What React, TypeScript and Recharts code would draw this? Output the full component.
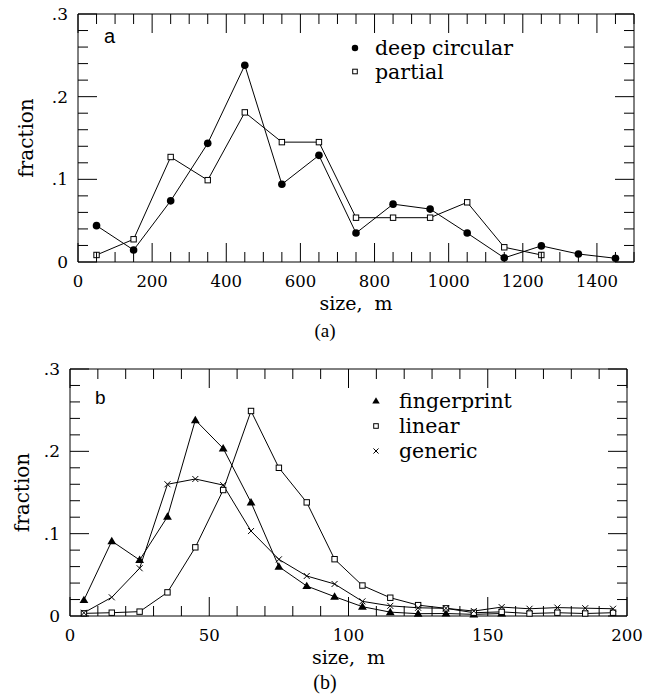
import React from 'react'
import { LineChart, Line, XAxis, YAxis, ReferenceArea, Legend } from 'recharts'

// (a) size bins, m
const sizesA = [50, 150, 250, 350, 450, 550, 650, 750, 850, 950, 1050, 1150, 1250, 1350, 1450]
const deepCircular = [0.044, 0.0145, 0.074, 0.1435, 0.238, 0.094, 0.129, 0.035, 0.07, 0.064, 0.035, 0.005, 0.0195, 0.0097, 0.0045]
const partial = [0.0085, 0.0275, 0.127, 0.099, 0.181, 0.145, 0.145, 0.0536, 0.0536, 0.0536, 0.0722, 0.0178, 0.0085, null, null]

// (b) size bins, m
const sizesB = [5, 15, 25, 35, 45, 55, 65, 75, 85, 95, 105, 115, 125, 135, 145, 155, 165, 175, 185, 195]
const fingerprint = [0.0194, 0.091, 0.068, 0.1206, 0.238, 0.2036, 0.138, 0.0599, 0.0364, 0.0235, 0.0113, 0.0047, 0.0028, 0.003, 0.002, 0.003, null, null, null, null]
const linear = [0.0032, 0.004, 0.0053, 0.0287, 0.0834, 0.153, 0.249, 0.18, 0.138, 0.069, 0.037, 0.0222, 0.0132, 0.0093, 0.004, 0.005, 0.003, 0.004, 0.003, 0.004]
const generic = [0.004, 0.0227, 0.058, 0.16, 0.1664, 0.159, 0.1032, 0.0688, 0.0486, 0.0389, 0.0178, 0.0123, 0.01, 0.0093, 0.006, 0.0108, 0.0088, 0.0102, 0.0095, 0.0088]

const yTicks = [0, 0.02, 0.04, 0.06, 0.08, 0.1, 0.12, 0.14, 0.16, 0.18, 0.2, 0.22, 0.24, 0.26, 0.28, 0.3]
const yMajor = [0, 0.1, 0.2, 0.3]
const yLabels = ['0', '.1', '.2', '.3']
const xTicksA = Array.from({ length: 31 }, (_, i) => i * 50)
const xMajorA = [0, 200, 400, 600, 800, 1000, 1200, 1400]
const xTicksB = Array.from({ length: 21 }, (_, i) => i * 10)
const xMajorB = [0, 50, 100, 150, 200]

const dataA = sizesA.map((s, i) => ({ size: s, deep: deepCircular[i], partial: partial[i] }))
const dataB = sizesB.map((s, i) => ({ size: s, fingerprint: fingerprint[i], linear: linear[i], generic: generic[i] }))

const seriesA = [
  { key: 'deep', name: 'deep circular', shape: 'circle' },
  { key: 'partial', name: 'partial', shape: 'square' },
]
const seriesB = [
  { key: 'fingerprint', name: 'fingerprint', shape: 'triangle' },
  { key: 'linear', name: 'linear', shape: 'square' },
  { key: 'generic', name: 'generic', shape: 'cross' },
]

const SERIF = '"DejaVu Serif", serif'
const MAJOR_LEN = 19
const MINOR_LEN = 10

function Marker({ cx, cy, shape, small }: { cx: number; cy: number; shape: string; small?: boolean }) {
  const k = small ? 0.85 : 1
  if (shape === 'circle') return <circle cx={cx} cy={cy} r={3.8 * k} fill="#000" />
  if (shape === 'square') {
    const h = 2.7 * k
    return <rect x={cx - h} y={cy - h} width={2 * h} height={2 * h} fill="#fff" stroke="#000" strokeWidth={1} />
  }
  if (shape === 'triangle') {
    const s = 4.4 * k
    return <polygon points={`${cx},${cy - s} ${cx - s},${cy + s * 0.7} ${cx + s},${cy + s * 0.7}`} fill="#000" />
  }
  const c = 3 * k
  return (
    <g stroke="#000" strokeWidth={1}>
      <line x1={cx - c} y1={cy - c} x2={cx + c} y2={cy + c} />
      <line x1={cx - c} y1={cy + c} x2={cx + c} y2={cy - c} />
    </g>
  )
}

const dotFor = (shape: string) => (p: any) => {
  if (p.value == null || p.cy == null) return <g key={p.index} />
  return <Marker key={p.index} cx={p.cx} cy={p.cy} shape={shape} />
}

const xTickFor = (major: number[], plotH: number) => (p: any) => {
  const { x, y, payload } = p
  const isMajor = major.includes(payload.value)
  const len = isMajor ? MAJOR_LEN : MINOR_LEN
  return (
    <g>
      <line x1={x} y1={y} x2={x} y2={y - len} stroke="#000" />
      <line x1={x} y1={y - plotH} x2={x} y2={y - plotH + len} stroke="#000" />
      {isMajor && (
        <text x={x} y={y + 25} textAnchor="middle" fontFamily={SERIF} fontSize={16.5} fill="#000">
          {payload.value}
        </text>
      )}
    </g>
  )
}

const yTickFor = (plotW: number) => (p: any) => {
  const { x, y, payload } = p
  const idx = yMajor.findIndex((m) => Math.abs(m - payload.value) < 1e-9)
  const len = idx >= 0 ? MAJOR_LEN : MINOR_LEN
  return (
    <g>
      <line x1={x} y1={y} x2={x + len} y2={y} stroke="#000" />
      <line x1={x + plotW} y1={y} x2={x + plotW - len} y2={y} stroke="#000" />
      {idx >= 0 && (
        <text x={x - 10} y={y + 6} textAnchor="end" fontFamily={SERIF} fontSize={17} fill="#000">
          {yLabels[idx]}
        </text>
      )}
    </g>
  )
}

function XTitle({ viewBox }: any) {
  return (
    <text x={viewBox.x + viewBox.width / 2} y={viewBox.y + 48} textAnchor="middle" fontFamily={SERIF} fontSize={19} fill="#000">
      size,{'\u00a0\u00a0'}m
    </text>
  )
}

const yTitleFor = (gap: number) => ({ viewBox }: any) => {
  const bx = viewBox.x + viewBox.width - gap
  const cy = viewBox.y + viewBox.height / 2
  return (
    <text x={bx} y={cy} transform={`rotate(-90 ${bx} ${cy})`} textAnchor="middle" fontFamily={SERIF} fontSize={20} fill="#000">
      fraction
    </text>
  )
}

function LegendBox({ items, textX, rowGap }: { items: { name: string; shape: string }[]; textX: number; rowGap: number }) {
  return (
    <svg width={220} height={items.length * rowGap + 10} style={{ display: 'block' }}>
      {items.map((it, i) => (
        <g key={it.name}>
          <Marker cx={10} cy={12 + i * rowGap} shape={it.shape} small />
          <text x={textX} y={19 + i * rowGap} fontFamily={SERIF} fontSize={20.5} fill="#000">
            {it.name}
          </text>
        </g>
      ))}
    </svg>
  )
}

interface PanelProps {
  data: any[]
  series: { key: string; name: string; shape: string }[]
  xMax: number
  xTicks: number[]
  xMajor: number[]
  height: number
  margin: { top: number; right: number; bottom: number; left: number }
  yAxisWidth: number
  xAxisHeight: number
  titleGap: number
  legendPos: { left: number; top: number }
  legendTextX: number
  legendGap: number
}

function Panel(p: PanelProps) {
  const plotW = 657 - p.margin.left - p.margin.right - p.yAxisWidth
  const plotH = p.height - p.margin.top - p.margin.bottom - p.xAxisHeight
  return (
    <LineChart width={657} height={p.height} data={p.data} margin={p.margin}>
      <XAxis
        dataKey="size"
        type="number"
        domain={[0, p.xMax]}
        ticks={p.xTicks}
        interval={0}
        tickSize={0}
        tickMargin={0}
        tickLine={false}
        axisLine={false}
        height={p.xAxisHeight}
        tick={xTickFor(p.xMajor, plotH)}
        label={<XTitle />}
      />
      <YAxis
        type="number"
        domain={[0, 0.3]}
        ticks={yTicks}
        interval={0}
        tickSize={0}
        tickMargin={0}
        tickLine={false}
        axisLine={false}
        width={p.yAxisWidth}
        tick={yTickFor(plotW)}
        label={yTitleFor(p.titleGap)}
      />
      <ReferenceArea x1={0} x2={p.xMax} y1={0} y2={0.3} fill="none" stroke="#000" strokeWidth={1} ifOverflow="visible" />
      <Legend
        verticalAlign="middle"
        align="center"
        layout="horizontal"
        wrapperStyle={{ left: p.legendPos.left, top: p.legendPos.top, width: 220 }}
        content={() => <LegendBox items={p.series} textX={p.legendTextX} rowGap={p.legendGap} />}
      />
      {p.series.map((s) => (
        <Line
          key={s.key}
          name={s.name}
          dataKey={s.key}
          type="linear"
          stroke="#000"
          strokeWidth={1}
          dot={dotFor(s.shape)}
          activeDot={false}
          isAnimationActive={false}
        />
      ))}
    </LineChart>
  )
}

export default function App() {
  return (
    <div style={{ position: 'absolute', left: 0, top: 0, width: 657, height: 696, background: '#fff' }}>
      <div style={{ position: 'absolute', left: 0, top: 0 }}>
        <Panel
          data={dataA}
          series={seriesA}
          xMax={1500}
          xTicks={xTicksA}
          xMajor={xMajorA}
          height={345}
          margin={{ top: 14, right: 23, bottom: 0, left: 0 }}
          yAxisWidth={78}
          xAxisHeight={83}
          titleGap={45}
          legendPos={{ left: 345, top: 36 }}
          legendTextX={30}
          legendGap={23.5}
        />
      </div>
      <div style={{ position: 'absolute', left: 0, top: 345 }}>
        <Panel
          data={dataB}
          series={seriesB}
          xMax={200}
          xTicks={xTicksB}
          xMajor={xMajorB}
          height={351}
          margin={{ top: 24, right: 30, bottom: 0, left: 0 }}
          yAxisWidth={70}
          xAxisHeight={80}
          titleGap={41}
          legendPos={{ left: 366, top: 44 }}
          legendTextX={33}
          legendGap={25}
        />
      </div>
      <svg width={657} height={696} style={{ position: 'absolute', left: 0, top: 0, pointerEvents: 'none' }}>
        <text x={104} y={43} fontFamily='"Liberation Sans", Arial, sans-serif' fontSize={20} fill="#000">a</text>
        <text x={95} y={404} fontFamily='"Liberation Sans", Arial, sans-serif' fontSize={19} fill="#000">b</text>
        <text x={325} y={337} textAnchor="middle" fontFamily='"Liberation Serif", "Times New Roman", serif' fontSize={19} fill="#000">(a)</text>
        <text x={325} y={689} textAnchor="middle" fontFamily='"Liberation Serif", "Times New Roman", serif' fontSize={20} fill="#000">(b)</text>
      </svg>
    </div>
  )
}
